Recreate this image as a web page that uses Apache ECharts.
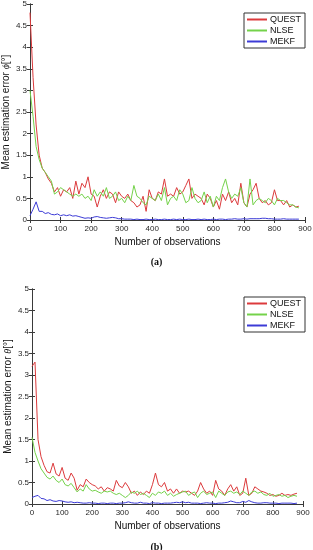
<!DOCTYPE html>
<html><head><meta charset="utf-8">
<script src="https://cdn.jsdelivr.net/npm/echarts@6/dist/echarts.min.js"></script>
<style>html,body{margin:0;padding:0;background:#fff}#c{width:313px;height:550px}</style>
</head><body><div id="c"></div>
<script>
// observation counts (x), every 10 from 0 to 880
const observations = [0,10,20,30,40,50,60,70,80,90,100,110,120,130,140,150,160,170,180,190,200,210,220,230,240,250,260,270,280,290,300,310,320,330,340,350,360,370,380,390,400,410,420,430,440,450,460,470,480,490,500,510,520,530,540,550,560,570,580,590,600,610,620,630,640,650,660,670,680,690,700,710,720,730,740,750,760,770,780,790,800,810,820,830,840,850,860,870,880];
const seriesNames = ['QUEST','NLSE','MEKF'];
const xTicks = [0,100,200,300,400,500,600,700,800,900];
const yTicks = [0,0.5,1,1.5,2,2.5,3,3.5,4,4.5,5];

// (a) roll error phi
const questA = [4.8,3.3,2.2,1.5,1.2,1.1,0.95,0.85,0.65,0.75,0.55,0.7,0.65,0.75,0.5,0.9,0.6,0.85,0.75,1.0,0.6,0.55,0.3,0.55,0.7,0.5,0.65,0.6,0.4,0.65,0.55,0.5,0.6,0.45,0.4,0.3,0.35,0.55,0.2,0.7,0.5,0.45,0.65,0.6,0.95,0.55,0.6,0.55,0.75,0.6,0.65,0.8,0.95,0.5,0.6,0.55,0.5,0.35,0.6,0.5,0.3,0.45,0.25,0.6,0.45,0.65,0.4,0.5,0.35,0.85,0.4,0.3,0.6,0.7,0.85,0.5,0.4,0.45,0.35,0.4,0.7,0.45,0.45,0.35,0.45,0.3,0.35,0.3,0.32];
const nlseA = [3.0,2.4,1.7,1.4,1.2,1.1,1.0,0.9,0.6,0.65,0.75,0.7,0.65,0.6,0.55,0.6,0.55,0.6,0.5,0.55,0.45,0.7,0.55,0.65,0.55,0.75,0.5,0.55,0.65,0.45,0.5,0.4,0.55,0.45,0.8,0.55,0.5,0.4,0.35,0.55,0.5,0.45,0.6,0.45,0.75,0.35,0.5,0.55,0.45,0.7,0.6,0.4,0.45,0.75,0.5,0.4,0.45,0.65,0.4,0.55,0.3,0.55,0.45,0.75,0.95,0.65,0.5,0.6,0.55,0.75,0.4,0.3,0.95,0.35,0.45,0.5,0.45,0.4,0.5,0.45,0.35,0.5,0.45,0.45,0.4,0.35,0.35,0.3,0.28];
const mekfA = [0.1,0.25,0.42,0.2,0.2,0.15,0.17,0.13,0.12,0.14,0.1,0.12,0.1,0.12,0.09,0.1,0.08,0.06,0.04,0.05,0.04,0.07,0.08,0.06,0.05,0.04,0.05,0.06,0.05,0.03,0.03,0.02,0.02,0.02,0.01,0.02,0.01,0.01,0.02,0.01,0.01,0.02,0.01,0.01,0.02,0.01,0.01,0.02,0.01,0.02,0.01,0.01,0.02,0.01,0.01,0.02,0.01,0.02,0.01,0.01,0.02,0.01,0.02,0.02,0.01,0.02,0.02,0.03,0.02,0.02,0.03,0.02,0.03,0.03,0.03,0.03,0.04,0.04,0.03,0.03,0.02,0.02,0.02,0.03,0.02,0.02,0.02,0.02,0.02];

// (b) pitch error theta
const questB = [3.2,3.3,1.5,1.1,0.9,0.75,0.72,0.95,0.7,0.65,0.85,0.6,0.55,0.72,0.6,0.32,0.45,0.4,0.58,0.5,0.45,0.42,0.35,0.4,0.3,0.38,0.35,0.3,0.55,0.42,0.38,0.5,0.4,0.25,0.3,0.2,0.28,0.22,0.3,0.25,0.45,0.72,0.45,0.4,0.5,0.3,0.35,0.25,0.35,0.25,0.3,0.28,0.3,0.25,0.2,0.3,0.5,0.35,0.25,0.3,0.2,0.55,0.35,0.3,0.2,0.35,0.45,0.3,0.4,0.2,0.25,0.6,0.2,0.25,0.4,0.35,0.3,0.28,0.25,0.2,0.22,0.18,0.2,0.25,0.2,0.22,0.2,0.23,0.25];
const nlseB = [1.55,1.2,1.0,0.82,0.72,0.62,0.58,0.65,0.55,0.5,0.58,0.45,0.42,0.48,0.38,0.28,0.35,0.3,0.45,0.35,0.3,0.32,0.28,0.25,0.3,0.28,0.3,0.25,0.22,0.25,0.2,0.15,0.2,0.28,0.25,0.3,0.22,0.25,0.2,0.15,0.25,0.2,0.28,0.25,0.3,0.2,0.25,0.18,0.22,0.25,0.28,0.3,0.2,0.25,0.28,0.15,0.25,0.3,0.22,0.25,0.28,0.15,0.3,0.25,0.2,0.28,0.3,0.25,0.28,0.22,0.3,0.25,0.2,0.28,0.3,0.25,0.28,0.22,0.2,0.25,0.18,0.2,0.22,0.18,0.2,0.15,0.18,0.2,0.18];
const mekfB = [0.15,0.18,0.2,0.13,0.12,0.08,0.1,0.07,0.06,0.08,0.07,0.05,0.04,0.05,0.03,0.04,0.03,0.02,0.02,0.03,0.02,0.02,0.01,0.02,0.02,0.01,0.02,0.02,0.01,0.02,0.02,0.03,0.05,0.03,0.02,0.02,0.04,0.02,0.02,0.01,0.03,0.02,0.02,0.01,0.02,0.02,0.02,0.03,0.04,0.03,0.05,0.03,0.04,0.02,0.02,0.02,0.01,0.02,0.03,0.02,0.02,0.01,0.02,0.02,0.03,0.04,0.07,0.05,0.03,0.03,0.06,0.04,0.08,0.05,0.03,0.02,0.02,0.03,0.03,0.02,0.02,0.02,0.01,0.02,0.02,0.02,0.02,0.01,0.02];

const colors = {QUEST:'#dc3a3c', NLSE:'#74d24a', MEKF:'#3c3bd6'};
const pair = arr => observations.map((x,i)=>[x,arr[i]]);

const axisColor = '#3a3a3a';
const labelStyle = {color:'#262626', fontSize:8, fontFamily:'Liberation Sans, Arial, sans-serif'};

function xAxes(gi){
  return [
    {type:'value', gridIndex:gi, min:xTicks[0], max:xTicks[xTicks.length-1], interval:100,
     name:'Number of observations', nameLocation:'middle', nameGap:17, nameMoveOverlap:false,
     nameTextStyle:{color:'#111', fontSize:10, fontFamily:'Liberation Sans, Arial, sans-serif'},
     axisLine:{lineStyle:{color:axisColor, width:1}}, axisTick:{inside:true, length:3, lineStyle:{color:axisColor}},
     axisLabel:Object.assign({margin:5}, labelStyle), splitLine:{show:false}},
    {type:'value', gridIndex:gi, position:'top', min:0, max:900, interval:100,
     axisLine:{lineStyle:{color:axisColor, width:1}}, axisTick:{inside:true, length:3, lineStyle:{color:axisColor}},
     axisLabel:{show:false}, splitLine:{show:false}}
  ];
}
function yAxes(gi, sym){
  return [
    {type:'value', gridIndex:gi, min:yTicks[0], max:yTicks[yTicks.length-1], interval:0.5,
     name:'{n|Mean estimation error }{i|'+sym+'}{n|[°]}', nameLocation:'middle', nameGap:19, nameMoveOverlap:false,
     nameTextStyle:{rich:{n:{color:'#111', fontSize:10, fontFamily:'Liberation Sans, Arial, sans-serif'},
                          i:{color:'#111', fontSize:10, fontStyle:'italic', fontFamily:'Liberation Serif, serif'}}},
     axisLine:{show:true, lineStyle:{color:axisColor, width:1}}, axisTick:{show:true, inside:true, length:3, lineStyle:{color:axisColor}},
     axisLabel:Object.assign({margin:3}, labelStyle), splitLine:{show:false}},
    {type:'value', gridIndex:gi, position:'right', min:0, max:5, interval:0.5,
     axisLine:{show:true, lineStyle:{color:axisColor, width:1}}, axisTick:{show:true, inside:true, length:3, lineStyle:{color:axisColor}},
     axisLabel:{show:false}, splitLine:{show:false}}
  ];
}
function lines(gi, q, n, m){
  const xi = gi*2, yi = gi*2;
  return [['QUEST',q],['NLSE',n],['MEKF',m]].map(([nm,arr])=>({
    type:'line', name:nm, xAxisIndex:xi, yAxisIndex:yi, data:pair(arr),
    symbol:'none', lineStyle:{width:1, color:colors[nm]}, itemStyle:{color:colors[nm]},
    animation:false, z: nm==='MEKF'?3:2
  }));
}
function legend(top, left){
  return {data:seriesNames, orient:'vertical', left:left, top:top, itemWidth:20, itemHeight:2, itemGap:2,
    padding:[2,4,2,3], borderColor:'#333', borderWidth:1, backgroundColor:'#fff', icon:'rect',
    textStyle:{color:'#111', fontSize:9, fontFamily:'Liberation Sans, Arial, sans-serif', padding:[0,0,0,-2]},
    selectedMode:false};
}

const chart = echarts.init(document.getElementById('c'), null, {renderer:'canvas'});
chart.setOption({
  backgroundColor:'#fff',
  animation:false,
  grid:[{left:30, top:4, width:275, height:216, containLabel:false, outerBoundsMode:'none'},
        {left:32, top:289, width:271, height:215, containLabel:false, outerBoundsMode:'none'}],
  xAxis:[...xAxes(0), ...xAxes(1)],
  yAxis:[...yAxes(0,'ϕ'), ...yAxes(1,'θ')],
  legend:[legend(13,244), legend(297,244)],
  title:[
    {text:'(a)', left:'center', top:252, textStyle:{fontSize:10, fontWeight:'bold', color:'#111', fontFamily:'Liberation Serif, serif'}},
    {text:'(b)', left:'center', top:537, textStyle:{fontSize:10, fontWeight:'bold', color:'#111', fontFamily:'Liberation Serif, serif'}}
  ],
  series:[...lines(0, questA, nlseA, mekfA), ...lines(1, questB, nlseB, mekfB)]
});
</script></body></html>
